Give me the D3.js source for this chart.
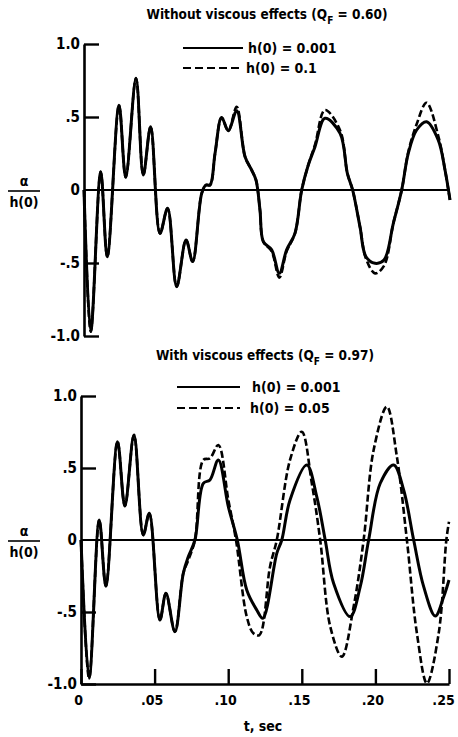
<!DOCTYPE html>
<html lang="en">
  <head>
    <meta charset="UTF-8" />
    <title>alpha / h(0)</title>
    <style>
      body { margin: 0; background: #fff; }
      text { font-family: "DejaVu Sans Condensed", "DejaVu Sans", sans-serif; font-weight: bold; fill: #000; }
    </style>
  </head>
  <body>
    <svg id="container" width="458" height="737"></svg>
  </body>
  <script src="https://cdn.jsdelivr.net/npm/d3@7"></script>
  <script>
    // tick labels
    let yTickValues = [-1, -0.5, 0, 0.5, 1];
    let yTickLabels = ["-1.0", "-.5", "0", ".5", "1.0"];
    let xTickValues = [0, 0.05, 0.10, 0.15, 0.20, 0.25];
    let xTickLabels = ["0", ".05", ".10", ".15", ".20", ".25"];

    // top panel, without viscous effects
    let topTime = [0, 0.0046, 0.0114, 0.0159, 0.0239, 0.0285, 0.0355, 0.0405, 0.0455, 0.0519, 0.0571, 0.0633, 0.0697, 0.0742, 0.0804, 0.0833, 0.0861, 0.0895, 0.094, 0.0986, 0.1043, 0.11, 0.1145, 0.1175, 0.1202, 0.1225, 0.1282, 0.1334, 0.1384, 0.1441, 0.1487, 0.1532, 0.1578, 0.1646, 0.1749, 0.1799, 0.1835, 0.1885, 0.1926, 0.1988, 0.2049, 0.2113, 0.217, 0.2215, 0.2272, 0.234, 0.242, 0.2466, 0.25];
    let topSmall = [0, -0.97, 0.125, -0.457, 0.58, 0.087, 0.765, 0.103, 0.434, -0.297, -0.125, -0.662, -0.342, -0.49, -0.023, 0.034, 0.034, 0.25, 0.497, 0.406, 0.543, 0.228, 0.137, 0.068, -0.137, -0.354, -0.41, -0.571, -0.41, -0.297, 0, 0.171, 0.297, 0.491, 0.388, 0.114, 0, -0.251, -0.457, -0.502, -0.48, -0.228, 0, 0.251, 0.411, 0.468, 0.342, 0.137, -0.068];
    let topLarge = [0, -0.97, 0.125, -0.457, 0.58, 0.087, 0.765, 0.103, 0.434, -0.297, -0.125, -0.662, -0.342, -0.49, -0.023, 0.034, 0.034, 0.25, 0.497, 0.406, 0.57, 0.228, 0.137, 0.068, -0.137, -0.354, -0.42, -0.6, -0.42, -0.297, 0, 0.171, 0.31, 0.548, 0.41, 0.114, 0, -0.251, -0.47, -0.571, -0.52, -0.228, 0, 0.26, 0.45, 0.598, 0.37, 0.137, -0.068];

    // bottom panel, with viscous effects
    let botTimeSmall = [0, 0.0055, 0.0124, 0.0169, 0.0248, 0.0298, 0.036, 0.0423, 0.0464, 0.0536, 0.0577, 0.0638, 0.0695, 0.0729, 0.0774, 0.0831, 0.0876, 0.0933, 0.1001, 0.1062, 0.1126, 0.1194, 0.1235, 0.133, 0.1364, 0.142, 0.1534, 0.1602, 0.1659, 0.1716, 0.1829, 0.1897, 0.1954, 0.2033, 0.2124, 0.2192, 0.226, 0.2328, 0.2407, 0.2464, 0.25];
    let botSmall = [0, -0.96, 0.139, -0.32, 0.683, 0.236, 0.729, 0.035, 0.185, -0.556, -0.37, -0.637, -0.231, -0.116, 0, 0.394, 0.417, 0.556, 0.231, 0, -0.347, -0.486, -0.544, -0.093, 0, 0.278, 0.521, 0.30, 0, -0.30, -0.532, -0.324, 0, 0.394, 0.521, 0.347, 0, -0.324, -0.528, -0.394, -0.278];
    let botTimeLarge = [0, 0.0055, 0.0124, 0.0169, 0.0248, 0.0298, 0.036, 0.0423, 0.0464, 0.0536, 0.0577, 0.0638, 0.0695, 0.0729, 0.0774, 0.0831, 0.0876, 0.0933, 0.1001, 0.1053, 0.1126, 0.1171, 0.1212, 0.1284, 0.133, 0.142, 0.15, 0.1568, 0.1625, 0.1693, 0.1772, 0.1852, 0.192, 0.1988, 0.2078, 0.2146, 0.2214, 0.2282, 0.235, 0.243, 0.2482, 0.25];
    let botLarge = [0, -0.96, 0.139, -0.32, 0.683, 0.236, 0.729, 0.035, 0.185, -0.556, -0.37, -0.637, -0.231, -0.14, 0, 0.556, 0.567, 0.66, 0.278, 0, -0.532, -0.648, -0.66, -0.185, 0, 0.556, 0.752, 0.394, 0, -0.60, -0.81, -0.463, 0, 0.625, 0.926, 0.578, 0, -0.648, -0.995, -0.648, 0, 0.127];

    let svg = d3.select("#container");

    function panel(opts) {
      let x = d3.scaleLinear().domain([0, 0.25]).range(opts.xRange);
      let y = d3.scaleLinear().domain([-1, 1]).range(opts.yRange);
      let g = svg.append("g");

      // left axis, ticks pointing in
      let yAxis = d3.axisLeft(y).tickValues(yTickValues).tickSizeInner(-15).tickSizeOuter(0).tickPadding(opts.yPad)
        .tickFormat((d, i) => yTickLabels[i]);
      let ya = g.append("g").attr("transform", `translate(${opts.xRange[0]},0)`).call(yAxis);
      ya.select(".domain").attr("stroke-width", 2.6);
      ya.selectAll(".tick line").attr("stroke-width", 2.4).filter(d => d === 0).remove();
      ya.selectAll("text").style("font-size", "15px").attr("font-family", null);

      if (opts.xAxis) {
        let xAxis = d3.axisBottom(x).tickValues(xTickValues).tickSizeInner(-15).tickSizeOuter(0).tickPadding(11)
          .tickFormat((d, i) => xTickLabels[i]);
        let xa = g.append("g").attr("transform", `translate(0,${opts.yRange[0]})`).call(xAxis);
        xa.select(".domain").attr("stroke-width", 2.6);
        xa.selectAll(".tick line").attr("stroke-width", 2.4);
        xa.selectAll("text").style("font-size", "14px").attr("font-family", null)
          .attr("dx", (d, i) => i === xTickValues.length - 1 ? -6 : -3);
      }

      // zero line
      g.append("line").attr("x1", x(0)).attr("x2", x(0.25)).attr("y1", y(0)).attr("y2", y(0))
        .attr("stroke", "#000").attr("stroke-width", 2);

      let line = d3.line().x(d => x(d[0])).y(d => y(d[1])).curve(d3.curveCatmullRom.alpha(0.5));
      g.append("path").datum(d3.zip(opts.tLarge, opts.large)).attr("d", line)
        .attr("fill", "none").attr("stroke", "#000").attr("stroke-width", 2.6).attr("stroke-dasharray", "7,3");
      g.append("path").datum(d3.zip(opts.tSmall, opts.small)).attr("d", line)
        .attr("fill", "none").attr("stroke", "#000").attr("stroke-width", 3);

      // title
      let title = g.append("text").attr("x", opts.titleX).attr("y", opts.titleY).attr("text-anchor", "middle")
        .style("font-size", "13.5px");
      title.append("tspan").text(opts.title + " (Q");
      title.append("tspan").attr("dy", 5).style("font-size", "10px").text("F");
      title.append("tspan").attr("dy", -5).text(" = " + opts.q + ")");

      // legend
      let lg = opts.legend;
      g.append("line").attr("x1", lg.x1).attr("x2", lg.x2).attr("y1", lg.y).attr("y2", lg.y)
        .attr("stroke", "#000").attr("stroke-width", 2.2);
      g.append("line").attr("x1", lg.x1).attr("x2", lg.x2).attr("y1", lg.y + lg.dy).attr("y2", lg.y + lg.dy)
        .attr("stroke", "#000").attr("stroke-width", 2.2).attr("stroke-dasharray", "8,4");
      g.append("text").attr("x", lg.tx).attr("y", lg.y + 5).style("font-size", "14px").text("h(0) = 0.001");
      g.append("text").attr("x", lg.tx - 2).attr("y", lg.y + lg.dy + 5).style("font-size", "14px").text(lg.second);

      // y label, a fraction
      let yc = y(0);
      g.append("text").attr("x", 24).attr("y", yc - 4).attr("text-anchor", "middle").style("font-size", "14px").text("α");
      g.append("line").attr("x1", 8).attr("x2", 40).attr("y1", yc + 1).attr("y2", yc + 1).attr("stroke", "#000").attr("stroke-width", 1.6);
      g.append("text").attr("x", 24).attr("y", yc + 17).attr("text-anchor", "middle").style("font-size", "14px").text("h(0)");
    }

    panel({
      xRange: [84, 450], yRange: [336, 44], yPad: 4, xAxis: false,
      tSmall: topTime, small: topSmall, tLarge: topTime, large: topLarge,
      title: "Without viscous effects", q: "0.60", titleX: 267, titleY: 19,
      legend: { x1: 183, x2: 243, y: 48, dy: 20, tx: 248, second: "h(0) = 0.1" }
    });

    panel({
      xRange: [81, 449], yRange: [684, 396], yPad: 4, xAxis: true,
      tSmall: botTimeSmall, small: botSmall, tLarge: botTimeLarge, large: botLarge,
      title: "With viscous effects", q: "0.97", titleX: 265, titleY: 360,
      legend: { x1: 177, x2: 240, y: 387, dy: 21, tx: 252, second: "h(0) = 0.05" }
    });

    svg.append("text").attr("x", 263).attr("y", 731).attr("text-anchor", "middle").style("font-size", "14px").text("t, sec");
  </script>
</html>
